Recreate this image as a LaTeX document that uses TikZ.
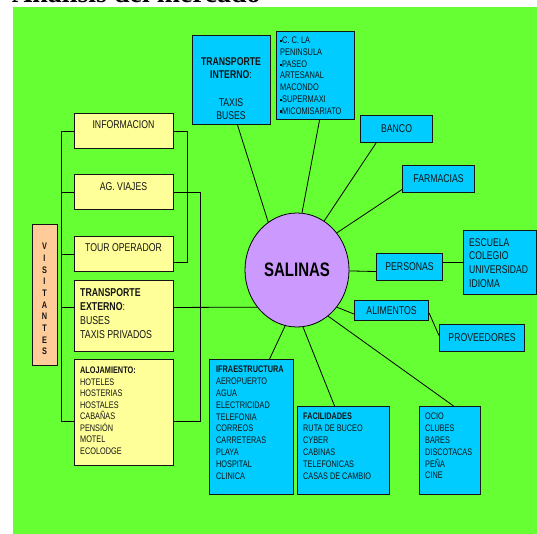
\documentclass[tikz,border=0pt]{standalone}
\usepackage{fontspec}
\setmainfont[FakeStretch=0.77]{Liberation Sans}
\newfontfamily\titlefont{Liberation Serif}
\usetikzlibrary{shapes.geometric,calc}
\definecolor{bggreen}{RGB}{102,255,51}
\definecolor{boxcyan}{RGB}{0,204,255}
\definecolor{boxyellow}{RGB}{255,255,153}
\definecolor{boxpeach}{RGB}{255,204,153}
\definecolor{boxlilac}{RGB}{204,153,255}
\definecolor{inkdark}{RGB}{20,20,20}
\newcommand{\sqb}{{\rule[1.6pt]{2pt}{2pt}}}
\begin{document}
\begin{tikzpicture}[x=1pt,y=-1pt,
  box/.style={draw=inkdark, line width=1.1pt, inner sep=0pt, anchor=north west},
  cyanbox/.style={box, fill=boxcyan},
  yelbox/.style={box, fill=boxyellow},
  txt/.style={inner sep=0pt, align=left, anchor=north west, text=inkdark},
  smalltxt/.style={txt, font=\fontsize{9.5}{11.8}\selectfont},
  midtxt/.style={font=\fontsize{11.3}{13.7}\selectfont, text=inkdark},
  link/.style={draw=black, line width=0.8pt}]
\useasboundingbox (0,0) rectangle (537,534);
\fill[bggreen] (13,7) rectangle (537,534);
\node[font=\titlefont\bfseries\fontsize{28}{30}\selectfont, anchor=base west, inner sep=0pt] (title) at (12,3) {Análisis del mercado};

% central node
\node[ellipse, draw=black, line width=0.8pt, fill=boxlilac, minimum width=104pt, minimum height=114pt, inner sep=0pt,
      font=\bfseries\fontsize{19.5}{22}\selectfont] (sal) at (297,270) {SALINAS};

% cyan boxes
\node[cyanbox, minimum width=78pt, minimum height=89pt] (ti) at (192,35) {};
\node[txt, midtxt, align=center, anchor=north] (titxt) at (231,57) {\textbf{TRANSPORTE}\\\textbf{INTERNO}:\\[13.7pt]TAXIS\\BUSES};

\node[cyanbox, minimum width=78pt, minimum height=88pt] (cc) at (276,31) {};
\node[txt, font=\fontsize{9.6}{11.7}\selectfont] (cctxt) at (280,37) {\sqb C. C. LA\\PENINSULA\\\sqb PASEO\\ARTESANAL\\MACONDO\\\sqb SUPERMAXI\\\sqb MICOMISARIATO};

\node[cyanbox, midtxt, minimum width=72pt, minimum height=27pt] (banco) at (360,115) {BANCO};
\node[cyanbox, midtxt, minimum width=72pt, minimum height=27pt] (farm) at (402,165) {FARMACIAS};
\node[cyanbox, midtxt, minimum width=66pt, minimum height=27pt] (pers) at (376,253) {PERSONAS};
\node[cyanbox, minimum width=73pt, minimum height=64pt] (esc) at (463,230) {};
\node[txt, font=\fontsize{11.2}{13.7}\selectfont] (esctxt) at (469,238) {ESCUELA\\COLEGIO\\UNIVERSIDAD\\IDIOMA};
\node[cyanbox, midtxt, minimum width=74pt, minimum height=20pt] (alim) at (354,300) {ALIMENTOS};
\node[cyanbox, midtxt, minimum width=85pt, minimum height=27pt] (prov) at (439,324) {PROVEEDORES};

\node[cyanbox, minimum width=84pt, minimum height=135pt] (ifra) at (209,359) {};
\node[smalltxt] (ifratxt) at (216,366) {\textbf{IFRAESTRUCTURA}\\AEROPUERTO\\AGUA\\ELECTRICIDAD\\TELEFONIA\\CORREOS\\CARRETERAS\\PLAYA\\HOSPITAL\\CLINICA};
\node[cyanbox, minimum width=92pt, minimum height=88pt] (fac) at (297,406) {};
\node[txt, font=\fontsize{9.5}{12}\selectfont] (factxt) at (303,413) {\textbf{FACILIDADES}\\RUTA DE BUCEO\\CYBER\\CABINAS\\TELEFONICAS\\CASAS DE CAMBIO};
\node[cyanbox, minimum width=61pt, minimum height=88pt] (ocio) at (419,406) {};
\node[smalltxt] (ociotxt) at (425,413) {OCIO\\CLUBES\\BARES\\DISCOTACAS\\PEÑA\\CINE};

% yellow boxes
\node[yelbox, minimum width=99pt, minimum height=35pt] (info) at (74,113) {};
\node[txt, midtxt, anchor=north] (infotxt) at (123.5,120) {INFORMACION};
\node[yelbox, minimum width=99pt, minimum height=35pt] (ag) at (74,174) {};
\node[txt, midtxt, anchor=north] (agtxt) at (123.5,182) {AG. VIAJES};
\node[yelbox, minimum width=99pt, minimum height=35pt] (tour) at (74,236) {};
\node[txt, midtxt, anchor=north] (tourtxt) at (123.5,243) {TOUR OPERADOR};
\node[yelbox, minimum width=99pt, minimum height=71pt] (te) at (74,280) {};
\node[txt, font=\fontsize{11.4}{14}\selectfont] (tetxt) at (80,288) {\textbf{TRANSPORTE}\\\textbf{EXTERNO}:\\BUSES\\TAXIS PRIVADOS};
\node[yelbox, minimum width=99pt, minimum height=106pt] (aloj) at (74,359) {};
\node[txt, font=\fontsize{9.5}{11.5}\selectfont] (alojtxt) at (80,367) {\textbf{ALOJAMIENTO:}\\HOTELES\\HOSTERIAS\\HOSTALES\\CABAÑAS\\PENSIÓN\\MOTEL\\ECOLODGE};

% visitantes
\node[box, fill=boxpeach, minimum width=25pt, minimum height=141pt] (vis) at (32,224) {};
\node[txt, align=center, anchor=north, font=\bfseries\fontsize{9.5}{11.67}\selectfont] (vistxt) at (44.5,243) {V\\I\\S\\I\\T\\A\\N\\T\\E\\S};

% spokes from SALINAS
\draw[link] (sal.121) -- ([xshift=6pt]ti.south);
\draw[link] (sal.85) -- ([xshift=4pt]cc.south);
\draw[link] (sal.61) -- ([xshift=16pt]banco.south west);
\draw[link] (sal.43) -- ([yshift=-10.5pt]farm.west);
\draw[link] (sal.-1) -- ([yshift=-4.5pt]pers.west);
\draw[link] ([yshift=4.5pt]pers.east) -- (esc.west);
\draw[link] (sal.-43) -- ([yshift=-3.5pt]alim.west);
\draw[link] ([yshift=-2.5pt]alim.east) -- ([yshift=2.5pt]prov.west);
\draw[link] (sal.-56.5) -- ([xshift=3.5pt]ocio.north);
\draw[link] (sal.-84.5) -- ([xshift=-9pt]fac.north);
\draw[link] (sal.-102) -- ([xshift=18pt]ifra.north);
\draw[link] (sal.-137) -- ([yshift=8.6pt]te.east);

% left bracket
\draw[link] (info.west) -- ++(-13,0) |- ([yshift=-9pt]aloj.west);
\draw[link] (ag.west) -- ++(-13,0);
\draw[link] (tour.west) -- ++(-13,0);
\draw[link] ([yshift=8.6pt]te.west) -- ++(-13,0);
% right brackets
\draw[link] (info.east) -- ++(13,0) |- ([yshift=-8.5pt]tour.east);
\draw[link] (ag.east) -- ++(26,0) |- ([yshift=-9pt]aloj.east);
\end{tikzpicture}
\end{document}
